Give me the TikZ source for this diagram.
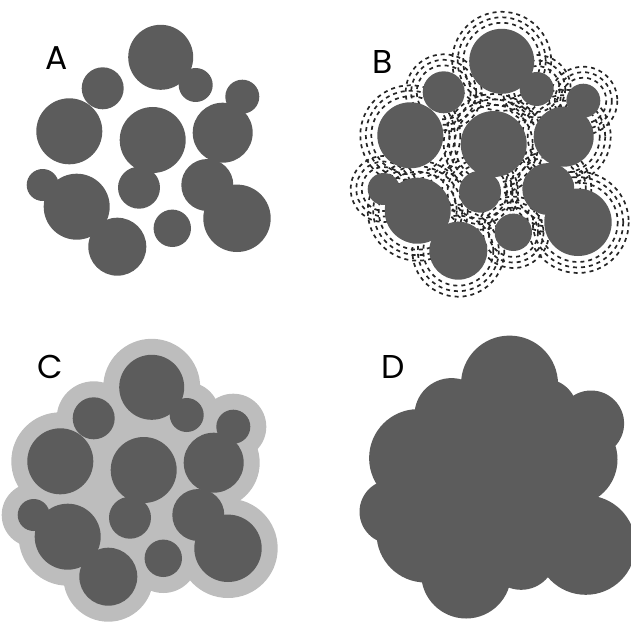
\documentclass[tikz,border=0pt]{standalone}
\usepackage{fontspec}
\setmainfont{Poppins}
\definecolor{dk}{HTML}{5C5C5C}
\definecolor{lt}{HTML}{BDBDBD}
\tikzset{
  blob/.style={fill=dk},
  halo/.style={fill=lt},
  ring/.style={draw=black!85, line width=1.7pt, dash pattern=on 4pt off 4pt},
  lbl/.style={font=\fontsize{33}{35}\selectfont, text=black, inner sep=0pt}
}
\def\blobs{160.7/57.3/32.5, 195.7/85/17, 102.7/88.3/21, 69.3/131.3/33,
  152.7/140/33, 242.3/96.7/17, 222.7/132.7/30, 42.7/185/16, 76.7/206.7/33,
  117.3/246.7/29, 139/187.7/21, 172.3/228.3/18.7, 207.3/185/26, 237/218.3/33.7}
\begin{document}
\begin{tikzpicture}[x=1pt,y=-1pt]
\useasboundingbox (0,0) rectangle (631,623);
% Panel A
\foreach \x/\y/\r in \blobs {\fill[blob] (\x,\y) circle[radius=\r];}
\node[lbl] (labA) at (57,58) {A};
% Panel B
\begin{scope}[shift={(341,4)}]
  \foreach \x/\y/\r in \blobs {
    \foreach \d in {6,11.5,17} {\draw[ring] (\x,\y) circle[radius={\r+\d}];}
  }
  \foreach \x/\y/\r in \blobs {\fill[blob] (\x,\y) circle[radius=\r];}
\end{scope}
\node[lbl] (labB) at (383,62) {B};
% Panel C
\begin{scope}[shift={(-9,330)}]
  \foreach \x/\y/\r in \blobs {\fill[halo] (\x,\y) circle[radius={\r+16}];}
  \fill[halo] (108,163) circle[radius=12];
  \foreach \x/\y/\r in \blobs {\fill[blob] (\x,\y) circle[radius=\r];}
\end{scope}
\node[lbl] (labC) at (50,367) {C};
% Panel D
\begin{scope}[shift={(348.8,326.8)}]
  \foreach \x/\y/\r in \blobs {\fill[blob] (\x,\y) circle[radius={\r+16}];}
  \fill[blob] (108,163) circle[radius=12];
\end{scope}
\node[lbl] (labD) at (393,367) {D};
\end{tikzpicture}
\end{document}
